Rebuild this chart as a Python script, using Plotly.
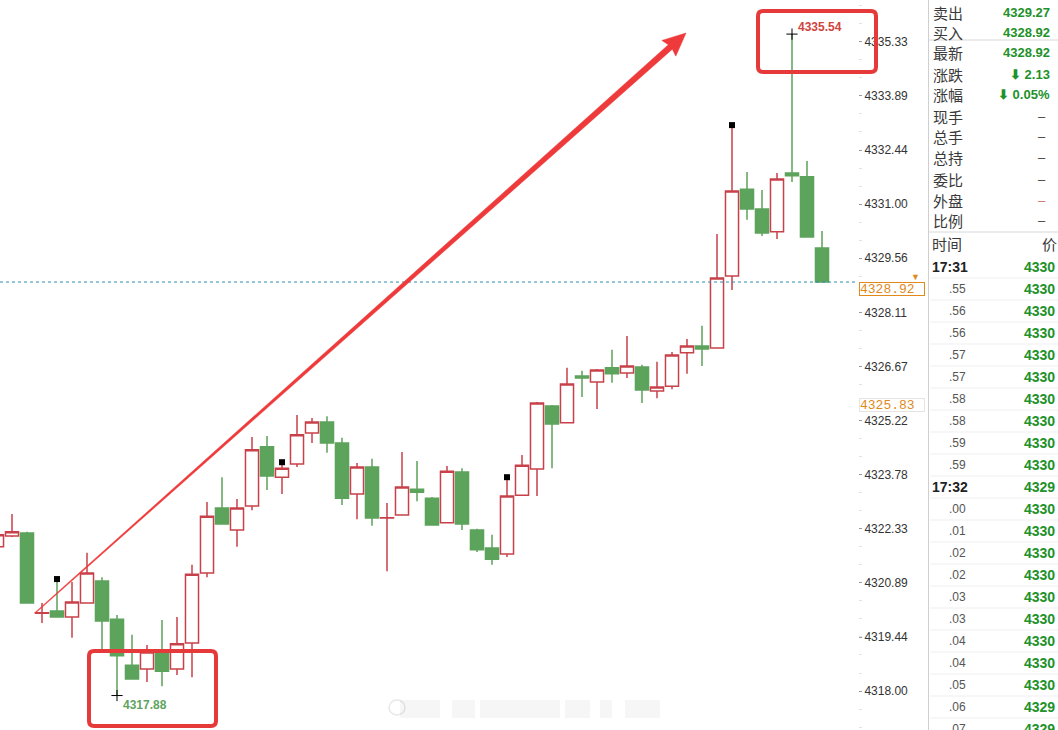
import plotly.graph_objects as go
import math

W, H = 1058, 730

# ---------------- data ----------------
idx = list(range(56))
opens = [4321.85, 4322.14, 4322.22, 4320.08, 4320.14, 4319.98, 4320.35, 4320.94, 4319.92, 4318.69,
         4318.59, 4319.02, 4318.59, 4319.28, 4321.15, 4322.89, 4322.30, 4322.94, 4324.52, 4323.71,
         4324.06, 4324.89, 4325.18, 4324.62, 4323.26, 4323.98, 4322.62, 4322.70, 4323.39, 4323.15,
         4322.49, 4323.85, 4322.30, 4321.82, 4321.66, 4323.23, 4323.93, 4325.61, 4325.16, 4326.41,
         4326.25, 4326.63, 4326.49, 4326.65, 4326.01, 4326.14, 4327.03, 4327.21, 4327.16, 4329.08,
         4331.40, 4330.87, 4330.26, 4331.83, 4331.73, 4329.83]
highs = [4322.22, 4322.73, 4322.25, 4320.35, 4320.99, 4320.91, 4321.69, 4321.04, 4320.03, 4319.50,
         4319.23, 4319.90, 4319.98, 4321.37, 4323.05, 4323.71, 4323.13, 4324.78, 4324.81, 4324.11,
         4325.37, 4325.29, 4325.34, 4324.76, 4324.09, 4324.20, 4323.02, 4324.38, 4324.14, 4323.18,
         4324.01, 4323.95, 4322.33, 4322.17, 4323.71, 4324.30, 4325.72, 4325.64, 4326.63, 4326.55,
         4326.60, 4327.11, 4327.48, 4326.71, 4326.79, 4327.05, 4327.40, 4327.75, 4330.20, 4333.11,
         4331.86, 4331.38, 4331.83, 4335.54, 4332.15, 4330.28]
lows = [4321.79, 4322.11, 4320.35, 4319.82, 4319.98, 4319.42, 4320.35, 4319.10, 4317.88, 4318.32,
        4318.24, 4318.13, 4318.43, 4318.37, 4321.04, 4322.46, 4321.85, 4322.83, 4323.37, 4323.26,
        4323.98, 4324.62, 4324.36, 4322.97, 4322.59, 4322.41, 4321.20, 4322.70, 4323.07, 4322.41,
        4322.49, 4322.30, 4321.71, 4321.37, 4321.58, 4323.23, 4323.21, 4323.95, 4325.16, 4325.85,
        4325.53, 4326.23, 4326.36, 4325.69, 4325.82, 4326.06, 4326.47, 4326.68, 4327.16, 4328.71,
        4330.58, 4330.15, 4330.07, 4331.59, 4330.12, 4328.92]
closes = [4322.17, 4322.25, 4320.35, 4320.09, 4319.98, 4320.38, 4321.15, 4319.87, 4318.94, 4318.32,
          4319.04, 4318.53, 4319.26, 4321.12, 4322.67, 4322.46, 4322.89, 4324.44, 4323.74, 4323.95,
          4324.84, 4325.18, 4324.62, 4323.15, 4323.98, 4322.62, 4322.63, 4323.45, 4323.31, 4322.43,
          4323.87, 4322.46, 4321.77, 4321.52, 4323.21, 4324.03, 4325.69, 4325.13, 4326.20, 4326.36,
          4326.57, 4326.47, 4326.68, 4326.04, 4326.12, 4326.97, 4327.21, 4327.13, 4329.03, 4331.35,
          4330.87, 4330.23, 4331.67, 4331.76, 4330.12, 4328.92]

marker_idx = [4, 19, 34, 49]          # black square markers at highs
y_ticks = [4335.33, 4333.89, 4332.44, 4331.00, 4329.56, 4328.11, 4326.67,
           4325.22, 4323.78, 4322.33, 4320.89, 4319.44, 4318.00]
high_val, high_i = 4335.54, 53
low_val, low_i = 4317.88, 8
last_price = 4328.92
ref_price = 4325.83

panel_labels = ['卖出', '买入', '最新', '涨跌', '涨幅', '现手', '总手', '总持', '委比', '外盘', '比例']
panel_values = ['4329.27', '4328.92', '4328.92', '⬇ 2.13', '⬇ 0.05%', '–', '–', '–', '–', '–', '–']
times = ['17:31', '.55', '.56', '.56', '.57', '.57', '.58', '.58', '.59', '.59',
         '17:32', '.00', '.01', '.02', '.02', '.03', '.03', '.04', '.04', '.05', '.06', '.07']
tick_prices = ['4330'] * 10 + ['4329'] + ['4330'] * 9 + ['4329', '4329']

RED = '#c8414a'
GREEN = '#5ca35c'
ARROW = '#ee3a3a'
ORANGE = '#e08a1e'
PLOT_R = 858


def px(x):
    return x / W


def py(y):
    return 1 - y / H


fig = go.Figure()
fig.add_trace(go.Candlestick(
    x=idx, open=opens, high=highs, low=lows, close=closes,
    increasing=dict(line=dict(color=RED, width=1.5), fillcolor='white'),
    decreasing=dict(line=dict(color=GREEN, width=1.5), fillcolor=GREEN),
    whiskerwidth=0, showlegend=False, hoverinfo='skip'))

fig.add_trace(go.Scatter(
    x=marker_idx, y=[highs[i] for i in marker_idx], mode='markers',
    marker=dict(symbol='square', size=6, color='black'), showlegend=False, hoverinfo='skip'))
fig.add_trace(go.Scatter(
    x=[high_i, low_i], y=[high_val, low_val], mode='markers',
    marker=dict(symbol='cross-thin', size=8, line=dict(color='black', width=1)),
    showlegend=False, hoverinfo='skip'))

shapes = []
annotations = []

# last price dashed line
shapes.append(dict(type='line', xref='paper', yref='y', x0=0, x1=px(PLOT_R), y0=last_price, y1=last_price,
                   line=dict(color='#2b8db3', width=1, dash='3px,3px')))


def rounded_rect(x0, y0, x1, y1, r=5):
    X = lambda v: f'{px(v):.5f}'
    Y = lambda v: f'{py(v):.5f}'
    return (f'M {X(x0 + r)},{Y(y0)} L {X(x1 - r)},{Y(y0)} Q {X(x1)},{Y(y0)} {X(x1)},{Y(y0 + r)} '
            f'L {X(x1)},{Y(y1 - r)} Q {X(x1)},{Y(y1)} {X(x1 - r)},{Y(y1)} '
            f'L {X(x0 + r)},{Y(y1)} Q {X(x0)},{Y(y1)} {X(x0)},{Y(y1 - r)} '
            f'L {X(x0)},{Y(y0 + r)} Q {X(x0)},{Y(y0)} {X(x0 + r)},{Y(y0)} Z')


for (a, b, c, d) in [(758, 11, 876, 72), (89, 651, 216, 726)]:
    shapes.append(dict(type='path', xref='paper', yref='paper', path=rounded_rect(a, b, c, d),
                       line=dict(color='#e63a3a', width=4)))

# tapered arrow
sx, sy = 35, 613
tx, ty = 686, 33
L = math.hypot(tx - sx, ty - sy)
ux, uy = (tx - sx) / L, (ty - sy) / L
nx, ny = -uy, ux
hl, hw = 23, 10.5
bx, by = tx - hl * ux, ty - hl * uy
bx2, by2 = bx + 2 * ux, by + 2 * uy
pts = [(sx + 0.4 * nx, sy + 0.4 * ny), (bx2 + 3.0 * nx, by2 + 3.0 * ny),
       (bx + hw * nx, by + hw * ny), (tx, ty), (bx - hw * nx, by - hw * ny),
       (bx2 - 3.0 * nx, by2 - 3.0 * ny), (sx - 0.4 * nx, sy - 0.4 * ny)]
path = 'M ' + ' L '.join(f'{px(x):.5f},{py(y):.5f}' for x, y in pts) + ' Z'
shapes.append(dict(type='path', xref='paper', yref='paper', path=path,
                   fillcolor=ARROW, line=dict(color=ARROW, width=0.5)))

# high/low labels
annotations.append(dict(x=high_i, y=high_val, xref='x', yref='y', text=f'{high_val:.2f}', showarrow=False,
                        xanchor='left', yanchor='middle', xshift=4, yshift=7,
                        font=dict(family='Liberation Sans', size=12, color='#d0443c', weight='bold')))
annotations.append(dict(x=low_i, y=low_val, xref='x', yref='y', text=f'{low_val:.2f}', showarrow=False,
                        xanchor='left', yanchor='middle', xshift=4, yshift=-9,
                        font=dict(family='Liberation Sans', size=12, color='#5fa35f', weight='bold')))

# price labels on the axis
annotations.append(dict(x=px(859), y=last_price, xref='paper', yref='y', text=f'{last_price:.2f}',
                        showarrow=False, xanchor='left', yanchor='top', align='left', width=64, height=12,
                        bordercolor=ORANGE, borderwidth=1, borderpad=0, bgcolor='white',
                        font=dict(family='Liberation Mono', size=13, color=ORANGE)))
annotations.append(dict(x=px(859), y=ref_price, xref='paper', yref='y', text=f'{ref_price:.2f}',
                        showarrow=False, xanchor='left', yanchor='top', align='left', width=64, height=12,
                        bordercolor='#e4e4e4', borderwidth=1, borderpad=0, bgcolor='white',
                        font=dict(family='Liberation Mono', size=13, color=ORANGE)))
annotations.append(dict(x=px(922), y=py(276), xref='paper', yref='paper', text='▼', showarrow=False,
                        font=dict(size=9, color=ORANGE)))

# faint watermark at the bottom
shapes.append(dict(type='circle', xref='paper', yref='paper', x0=px(389), x1=px(405), y0=py(715), y1=py(700),
                   line=dict(color='#e8e8e8', width=1.5)))
for (a, b) in [(400, 440), (452, 475), (480, 560), (565, 590), (600, 612), (625, 660)]:
    shapes.append(dict(type='rect', xref='paper', yref='paper', x0=px(a), x1=px(b), y0=py(718), y1=py(700),
                       fillcolor='rgba(0,0,0,0.035)', line=dict(width=0)))

# ---------------- right panel ----------------
shapes.append(dict(type='line', xref='paper', yref='paper', x0=px(928.5), x1=px(928.5), y0=0, y1=1,
                   line=dict(color='#cfcfcf', width=1)))
for yy in [40, 232]:
    shapes.append(dict(type='line', xref='paper', yref='paper', x0=px(929), x1=1, y0=py(yy), y1=py(yy),
                       line=dict(color='#d8d8d8', width=1)))
label_y = [12, 32, 53, 74, 95, 116, 137, 157, 179, 200, 220]
for lab, val, yy in zip(panel_labels, panel_values, label_y):
    annotations.append(dict(x=px(931), y=py(yy), xref='paper', yref='paper', text=lab, showarrow=False,
                            xanchor='left', yanchor='middle',
                            font=dict(family='Noto Sans CJK SC', size=15, color='#3a3a3a')))
    if val == '–':
        col = '#d07070' if lab == '外盘' else '#444'
        annotations.append(dict(x=px(1048), y=py(yy), xref='paper', yref='paper', text='–', showarrow=False,
                                xanchor='right', yanchor='middle',
                                font=dict(family='Liberation Sans', size=13, color=col)))
    else:
        annotations.append(dict(x=px(1052), y=py(yy), xref='paper', yref='paper', text=val, showarrow=False,
                                xanchor='right', yanchor='middle',
                                font=dict(family='Liberation Sans', size=13, color='#21912a', weight='bold')))

annotations.append(dict(x=px(930), y=py(244), xref='paper', yref='paper', text='时间', showarrow=False,
                        xanchor='left', yanchor='middle',
                        font=dict(family='Noto Sans CJK SC', size=15, color='#3a3a3a')))
annotations.append(dict(x=px(1040), y=py(244), xref='paper', yref='paper', text='价', showarrow=False,
                        xanchor='left', yanchor='middle',
                        font=dict(family='Noto Sans CJK SC', size=15, color='#3a3a3a')))
for k, (t, p) in enumerate(zip(times, tick_prices)):
    yy = 267 + 22 * k
    if ':' in t:
        annotations.append(dict(x=px(930), y=py(yy), xref='paper', yref='paper', text=t, showarrow=False,
                                xanchor='left', yanchor='middle',
                                font=dict(family='Liberation Sans', size=14, color='#222', weight='bold')))
    else:
        annotations.append(dict(x=px(947), y=py(yy), xref='paper', yref='paper', text=t, showarrow=False,
                                xanchor='left', yanchor='middle',
                                font=dict(family='Liberation Sans', size=12, color='#555')))
    annotations.append(dict(x=px(1057), y=py(yy), xref='paper', yref='paper', text=p, showarrow=False,
                            xanchor='right', yanchor='middle',
                            font=dict(family='Liberation Sans', size=14, color='#21912a', weight='bold')))
    shapes.append(dict(type='line', xref='paper', yref='paper', x0=px(930), x1=1,
                       y0=py(yy + 11), y1=py(yy + 11), line=dict(color='#efefef', width=1)))

fig.update_layout(
    width=W, height=H, margin=dict(l=0, r=0, t=0, b=0),
    paper_bgcolor='white', plot_bgcolor='white',
    boxgap=0.13, boxgroupgap=0,
    shapes=shapes, annotations=annotations,
    xaxis=dict(domain=[0, px(PLOT_R)], range=[0.2, 57.4], visible=False,
               rangeslider=dict(visible=False), fixedrange=True),
    yaxis=dict(side='right', range=[4316.96, 4336.45], tickvals=y_ticks,
               ticktext=[f'{v:.2f}' for v in y_ticks], showgrid=False, zeroline=False,
               showline=False, ticks='outside', ticklen=3, tickcolor='#999',
               tickfont=dict(family='Liberation Sans', size=12, color='#333'),
               minor=dict(ticks='outside', ticklen=3, tickcolor='#e2e2e2', dtick=0.4815, tick0=4318.0)),
)

fig.write_html('out.html')
